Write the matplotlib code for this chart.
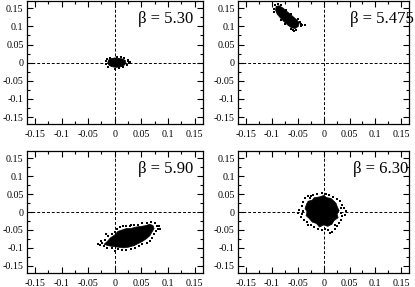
import matplotlib
matplotlib.use("Agg")
import matplotlib.pyplot as plt
from matplotlib.ticker import MultipleLocator

plt.rcParams['font.family'] = ['Liberation Serif', 'DejaVu Serif']
plt.rcParams['axes.unicode_minus'] = False

# ---- data ----
labels = ["\u03b2 = 5.30", "\u03b2 = 5.475", "\u03b2 = 5.90", "\u03b2 = 6.30"]

# dense core outlines (x, y)
core1_x = [-0.013, -0.012, -0.007, 0.000, 0.008, 0.015, 0.020, 0.021, 0.017, 0.010, 0.002, -0.006, -0.011]
core1_y = [0.000, 0.007, 0.011, 0.013, 0.012, 0.010, 0.006, -0.002, -0.008, -0.012, -0.013, -0.011, -0.007]
core2_x = [-0.092, -0.086, -0.078, -0.070, -0.060, -0.052, -0.047, -0.049, -0.055, -0.062,
           -0.068, -0.076, -0.084, -0.090, -0.093]
core2_y = [0.155, 0.157, 0.150, 0.140, 0.128, 0.118, 0.110, 0.100, 0.094, 0.096,
           0.102, 0.112, 0.124, 0.134, 0.145]
core3_x = [-0.020, -0.014, -0.008, 0.000, 0.006, 0.014, 0.022, 0.030, 0.040, 0.050,
           0.058, 0.066, 0.072, 0.074, 0.070, 0.066, 0.060, 0.052, 0.044, 0.036,
           0.026, 0.016, 0.006, -0.004, -0.012]
core3_y = [-0.090, -0.082, -0.072, -0.064, -0.054, -0.050, -0.046, -0.046, -0.042, -0.040,
           -0.038, -0.034, -0.038, -0.046, -0.056, -0.066, -0.074, -0.082, -0.088, -0.094,
           -0.098, -0.100, -0.098, -0.096, -0.094]
core4_x = [-0.036, -0.033, -0.030, -0.022, -0.018, -0.008, 0.000, 0.006, 0.014, 0.020,
           0.024, 0.027, 0.030, 0.026, 0.028, 0.020, 0.016, 0.008, 0.000, -0.008,
           -0.014, -0.022, -0.028, -0.034, -0.032]
core4_y = [0.010, 0.022, 0.030, 0.033, 0.040, 0.042, 0.046, 0.040, 0.038, 0.030,
           0.024, 0.012, 0.004, -0.006, -0.016, -0.024, -0.034, -0.040, -0.036, -0.042,
           -0.032, -0.028, -0.018, -0.010, 0.000]

# scattered outlying points (x, y)
pts1_x = [-0.017, -0.016, 0.024, 0.026, 0.024, 0.023, -0.009, 0.004, 0.012, 0.000,
          0.008, -0.012, 0.028, -0.015, 0.018, 0.016]
pts1_y = [0.004, -0.004, 0.004, -0.001, 0.008, -0.006, 0.014, 0.016, 0.015, -0.017,
          -0.015, -0.011, 0.002, 0.009, 0.012, -0.012]
pts2_x = [-0.095, -0.096, -0.088, -0.082, -0.044, -0.041, -0.037, -0.043, -0.057, -0.060,
          -0.064, -0.075, -0.082, -0.045, -0.050, -0.096, -0.072, -0.064, -0.053]
pts2_y = [0.160, 0.148, 0.161, 0.160, 0.106, 0.105, 0.103, 0.100, 0.087, 0.090,
          0.093, 0.106, 0.118, 0.113, 0.120, 0.140, 0.145, 0.133, 0.091]
pts3_x = [-0.032, -0.027, -0.024, -0.026, -0.018, -0.012, -0.006, 0.000, 0.004, 0.010,
          0.016, 0.022, 0.028, 0.036, 0.044, 0.052, 0.060, 0.068, 0.075, 0.079,
          0.081, 0.078, 0.074, 0.070, 0.066, 0.060, 0.052, 0.046, 0.038, 0.030,
          0.022, 0.014, 0.006, 0.000, -0.006, -0.014, -0.020, 0.085, 0.083, -0.016,
          0.030]
pts3_y = [-0.089, -0.093, -0.086, -0.080, -0.077, -0.068, -0.062, -0.056, -0.046, -0.042,
          -0.040, -0.038, -0.040, -0.036, -0.035, -0.032, -0.030, -0.028, -0.030, -0.038,
          -0.046, -0.054, -0.062, -0.072, -0.080, -0.086, -0.090, -0.096, -0.100, -0.104,
          -0.105, -0.106, -0.104, -0.110, -0.101, -0.099, -0.096, -0.047, -0.040, -0.060,
          -0.036]
pts4_x = [-0.050, -0.047, -0.044, -0.042, -0.040, -0.037, -0.031, -0.026, -0.020, -0.012,
          -0.004, 0.004, 0.010, 0.018, 0.026, 0.032, 0.036, 0.040, 0.043, 0.041,
          0.036, 0.034, 0.030, 0.026, 0.022, 0.017, 0.013, 0.008, 0.003, -0.004,
          -0.010, -0.018, -0.025, -0.032, -0.038, -0.042, -0.039, 0.033, 0.034, -0.024,
          0.022, -0.030]
pts4_y = [-0.004, 0.006, -0.014, 0.016, 0.028, 0.038, 0.045, 0.040, 0.048, 0.050,
          0.053, 0.050, 0.046, 0.042, 0.036, 0.030, 0.020, 0.012, 0.002, -0.008,
          -0.012, -0.022, -0.032, -0.040, -0.048, -0.055, -0.059, -0.050, -0.046, -0.050,
          -0.046, -0.042, -0.036, -0.028, -0.022, -0.006, 0.004, 0.010, -0.002, 0.044,
          -0.036, -0.036]

ticks = [-0.15, -0.1, -0.05, 0, 0.05, 0.1, 0.15]
tick_labels = ["-0.15", "-0.1", "-0.05", "0", "0.05", "0.1", "0.15"]

cores = [(core1_x, core1_y), (core2_x, core2_y), (core3_x, core3_y), (core4_x, core4_y)]
pts = [(pts1_x, pts1_y), (pts2_x, pts2_y), (pts3_x, pts3_y), (pts4_x, pts4_y)]

# ---- layout ----
W, H = 415, 287
fig = plt.figure(figsize=(W / 100, H / 100), dpi=100)
boxes = [
    (27, 1, 202.5, 124.3),
    (238.3, 1, 409, 124.3),
    (27, 151, 202.5, 273),
    (238.3, 151, 409, 273),
]
label_x = [0.635, 0.655, 0.635, 0.672]

for i, (x0, y0, x1, y1) in enumerate(boxes):
    ax = fig.add_axes([x0 / W, 1 - y1 / H, (x1 - x0) / W, (y1 - y0) / H])
    ax.set_xlim(-0.165, 0.165)
    ax.set_ylim(-0.17, 0.17)
    ax.axhline(0, color='black', lw=0.7, dashes=(3, 2), zorder=1)
    ax.axvline(0, color='black', lw=0.7, dashes=(3, 2), zorder=1)
    cx, cy = cores[i]
    ax.fill(cx, cy, color='black', lw=0.5, zorder=2)
    px, py = pts[i]
    ax.scatter(px, py, s=1.8, marker='s', color='black', linewidths=0, zorder=3)
    ax.set_xticks(ticks)
    ax.set_xticklabels(tick_labels)
    ax.set_yticks(ticks)
    ax.set_yticklabels(tick_labels)
    ax.xaxis.set_minor_locator(MultipleLocator(0.025))
    ax.yaxis.set_minor_locator(MultipleLocator(0.025))
    ax.tick_params(which='both', direction='in', top=True, right=True, labelsize=7.2,
                   width=0.8, colors='black')
    ax.tick_params(which='major', length=4.2)
    ax.tick_params(which='minor', length=2.3)
    ax.tick_params(axis='x', pad=4)
    ax.tick_params(axis='y', pad=2.5)
    for sp in ax.spines.values():
        sp.set_linewidth(0.9)
    ax.text(label_x[i], 0.85, labels[i], transform=ax.transAxes, ha='left', va='center',
            fontsize=12)

fig.savefig("out.png", dpi=100)
